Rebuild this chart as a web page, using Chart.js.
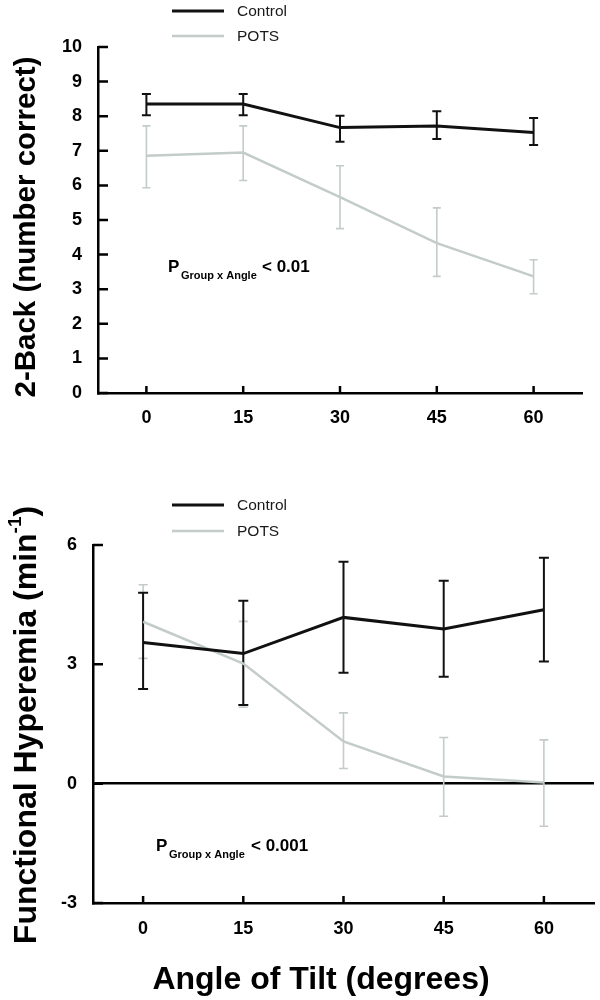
<!DOCTYPE html>
<html><head><meta charset="utf-8">
<script src="https://cdn.jsdelivr.net/npm/chart.js@4.4.0/dist/chart.umd.min.js"></script>
<style>
html,body{margin:0;padding:0;background:#fff;width:600px;height:1000px;overflow:hidden}
.wrap{position:absolute;left:0;width:600px}
</style></head><body>
<div class="wrap" style="top:0;height:460px"><canvas id="c1" width="600" height="460"></canvas></div>
<div class="wrap" style="top:460px;height:540px"><canvas id="c2" width="600" height="540"></canvas></div>
<script>
// ---- data ----
const angles = ['0', '15', '30', '45', '60'];
const seriesNames = ['Control', 'POTS'];

// Panel A: 2-Back (number correct)
const backControl   = [8.35, 8.35, 7.67, 7.72, 7.53];
const backControlHi = [8.64, 8.64, 8.01, 8.14, 7.95];
const backControlLo = [8.03, 8.03, 7.26, 7.34, 7.17];
const backPots      = [6.86, 6.95, 5.66, 4.33, 3.37];
const backPotsHi    = [7.72, 7.72, 6.57, 5.35, 3.85];
const backPotsLo    = [5.93, 6.14, 4.75, 3.37, 2.87];
const backTickMin = 0, backTickMax = 10, backTickStep = 1;

// Panel B: Functional Hyperemia (min-1)
const fhControl   = [3.55, 3.27, 4.18, 3.89, 4.37];
const fhControlHi = [4.80, 4.60, 5.58, 5.10, 5.68];
const fhControlLo = [2.38, 1.98, 2.79, 2.69, 3.07];
const fhPots      = [4.07, 3.02, 1.06, 0.18, 0.03];
const fhPotsHi    = [5.00, 4.08, 1.78, 1.16, 1.10];
const fhPotsLo    = [3.15, 1.92, 0.38, -0.82, -1.07];
const fhTickMin = -3, fhTickMax = 6, fhTickStep = 3;

// ---- styling ----
const FONT = "'Liberation Sans', Arial, Helvetica, sans-serif";
const CONTROL_COLOR = '#111111';
const POTS_COLOR = '#c3ccc8';
Chart.defaults.font.family = FONT;

const errorBars = {
  id: 'errorBars',
  beforeDatasetsDraw(chart) {
    const {ctx} = chart;
    const y = chart.scales.y;
    for (let di = chart.data.datasets.length - 1; di >= 0; di--) {
      const ds = chart.data.datasets[di];
      const meta = chart.getDatasetMeta(di);
      const cap = ds.capHalf;
      ctx.save();
      ctx.strokeStyle = ds.borderColor;
      ctx.lineWidth = ds.errWidth;
      meta.data.forEach((pt, i) => {
        const x = pt.x;
        const yh = y.getPixelForValue(ds.errHi[i]);
        const yl = y.getPixelForValue(ds.errLo[i]);
        ctx.beginPath();
        ctx.moveTo(x, yh); ctx.lineTo(x, yl);
        ctx.moveTo(x - cap, yh); ctx.lineTo(x + cap, yh);
        ctx.moveTo(x - cap, yl); ctx.lineTo(x + cap, yl);
        ctx.stroke();
      });
      ctx.restore();
    }
  }
};

const innerTicks = {
  id: 'innerTicks',
  afterDraw(chart) {
    const {ctx, chartArea} = chart;
    const x = chart.scales.x, y = chart.scales.y;
    ctx.save();
    ctx.strokeStyle = '#000';
    ctx.lineWidth = 2.5;
    ctx.beginPath();
    x.ticks.forEach((t, i) => {
      const px = x.getPixelForTick(i);
      ctx.moveTo(px, chartArea.bottom); ctx.lineTo(px, chartArea.bottom - 7);
    });
    y.ticks.forEach((t) => {
      const py = y.getPixelForValue(t.value);
      ctx.moveTo(chartArea.left, py); ctx.lineTo(chartArea.left + 10, py);
    });
    ctx.stroke();
    ctx.restore();
  }
};

const decorations = {
  id: 'decorations',
  afterDraw(chart, args, o) {
    const {ctx} = chart;
    ctx.save();
    // legend
    chart.data.datasets.forEach((ds, i) => {
      const ly = o.legendY[i];
      ctx.strokeStyle = ds.borderColor;
      ctx.lineWidth = ds.borderWidth;
      ctx.beginPath(); ctx.moveTo(172, ly); ctx.lineTo(224, ly); ctx.stroke();
      ctx.fillStyle = '#1a1a1a';
      ctx.font = '15.5px ' + FONT;
      ctx.textBaseline = 'middle';
      ctx.textAlign = 'left';
      ctx.fillText(ds.label, 237, ly + 1);
    });
    // y title (rotated)
    ctx.save();
    ctx.translate(o.yTitle.x, o.yTitle.y);
    ctx.rotate(-Math.PI / 2);
    ctx.fillStyle = '#000';
    ctx.font = 'bold ' + o.yTitle.size + 'px ' + FONT;
    ctx.textBaseline = 'middle';
    const main = o.yTitle.text, sup = o.yTitle.sup || '', tail = o.yTitle.tail || '';
    const supFont = 'bold ' + Math.round(o.yTitle.size * 0.6) + 'px ' + FONT;
    const wMain = ctx.measureText(main).width;
    const wTail = ctx.measureText(tail).width;
    ctx.font = supFont;
    const wSup = ctx.measureText(sup).width;
    let sx = -(wMain + wSup + wTail) / 2;
    ctx.textAlign = 'left';
    ctx.font = 'bold ' + o.yTitle.size + 'px ' + FONT;
    ctx.fillText(main, sx, 0);
    sx += wMain;
    if (sup) {
      ctx.font = supFont;
      ctx.fillText(sup, sx, -o.yTitle.size * 0.35);
      sx += wSup;
      ctx.font = 'bold ' + o.yTitle.size + 'px ' + FONT;
      ctx.fillText(tail, sx, 0);
    }
    ctx.restore();
    // x title
    if (o.xTitle) {
      ctx.fillStyle = '#000';
      ctx.font = 'bold ' + o.xTitle.size + 'px ' + FONT;
      ctx.textAlign = 'center';
      ctx.textBaseline = 'middle';
      ctx.fillText(o.xTitle.text, o.xTitle.x, o.xTitle.y);
    }
    // annotation P Group x Angle
    const a = o.annot;
    ctx.fillStyle = '#000';
    ctx.textAlign = 'left';
    ctx.textBaseline = 'alphabetic';
    ctx.font = 'bold 17px ' + FONT;
    ctx.fillText('P', a.x, a.y);
    ctx.font = 'bold 11px ' + FONT;
    ctx.fillText('Group x Angle', a.x + 13, a.y + 7);
    ctx.font = 'bold 17px ' + FONT;
    ctx.fillText(a.text, a.vx, a.y);
    ctx.restore();
  }
};

function makeChart(canvasId, cfg) {
  return new Chart(document.getElementById(canvasId), {
    type: 'line',
    data: {
      labels: angles,
      datasets: [
        { label: seriesNames[0], data: cfg.control, errHi: cfg.controlHi, errLo: cfg.controlLo,
          borderColor: CONTROL_COLOR, borderWidth: 3, errWidth: 2, capHalf: cfg.cap,
          pointRadius: 0, tension: 0, fill: false },
        { label: seriesNames[1], data: cfg.pots, errHi: cfg.potsHi, errLo: cfg.potsLo,
          borderColor: POTS_COLOR, borderWidth: 2.5, errWidth: 1.6, capHalf: cfg.cap - 0.5,
          pointRadius: 0, tension: 0, fill: false }
      ]
    },
    options: {
      responsive: false,
      animation: false,
      devicePixelRatio: 1,
      layout: { padding: cfg.padding },
      plugins: {
        legend: { display: false },
        tooltip: { enabled: false },
        decorations: cfg.deco
      },
      scales: {
        x: {
          type: 'category',
          offset: true,
          grid: { display: false, drawTicks: false },
          border: { display: true, color: '#000', width: 2.5 },
          ticks: { color: '#000', font: { size: 18, weight: 'bold' }, padding: cfg.xPad, maxRotation: 0 },
          afterFit: (s) => { s.height = cfg.xHeight; }
        },
        y: {
          min: cfg.min, max: cfg.max,
          grid: {
            display: true, drawTicks: false, drawOnChartArea: true,
            color: (c) => (cfg.zeroLine && c.tick && c.tick.value === 0) ? '#000' : 'rgba(0,0,0,0)',
            lineWidth: 2.5
          },
          border: { display: true, color: '#000', width: 2.5 },
          ticks: { stepSize: cfg.step, color: '#000', font: { size: 18, weight: 'bold' }, padding: 16 },
          afterFit: (s) => { s.width = cfg.yWidth; }
        }
      }
    },
    plugins: [errorBars, innerTicks, decorations]
  });
}

makeChart('c1', {
  control: backControl, controlHi: backControlHi, controlLo: backControlLo,
  pots: backPots, potsHi: backPotsHi, potsLo: backPotsLo,
  min: backTickMin, max: backTickMax, step: backTickStep, zeroLine: false,
  padding: { top: 47, right: 18, left: 0, bottom: 0 },
  xHeight: 67, yWidth: 98, xPad: 14, cap: 4.5,
  deco: {
    legendY: [11, 36],
    yTitle: { x: 27, y: 227, size: 29.5, text: '2-Back (number correct)' },
    annot: { x: 168, y: 272, vx: 262, text: '< 0.01' }
  }
});

makeChart('c2', {
  control: fhControl, controlHi: fhControlHi, controlLo: fhControlLo,
  pots: fhPots, potsHi: fhPotsHi, potsLo: fhPotsLo,
  min: fhTickMin, max: fhTickMax, step: fhTickStep, zeroLine: true,
  padding: { top: 85, right: 6, left: 0, bottom: 0 },
  xHeight: 97, yWidth: 93, xPad: 15, cap: 5,
  deco: {
    legendY: [45, 71],
    yTitle: { x: 27, y: 265, size: 32, text: 'Functional Hyperemia (min', sup: '-1', tail: ')' },
    xTitle: { x: 321, y: 520, size: 32, text: 'Angle of Tilt (degrees)' },
    annot: { x: 156, y: 391, vx: 251, text: '< 0.001' }
  }
});
</script>
</body></html>
